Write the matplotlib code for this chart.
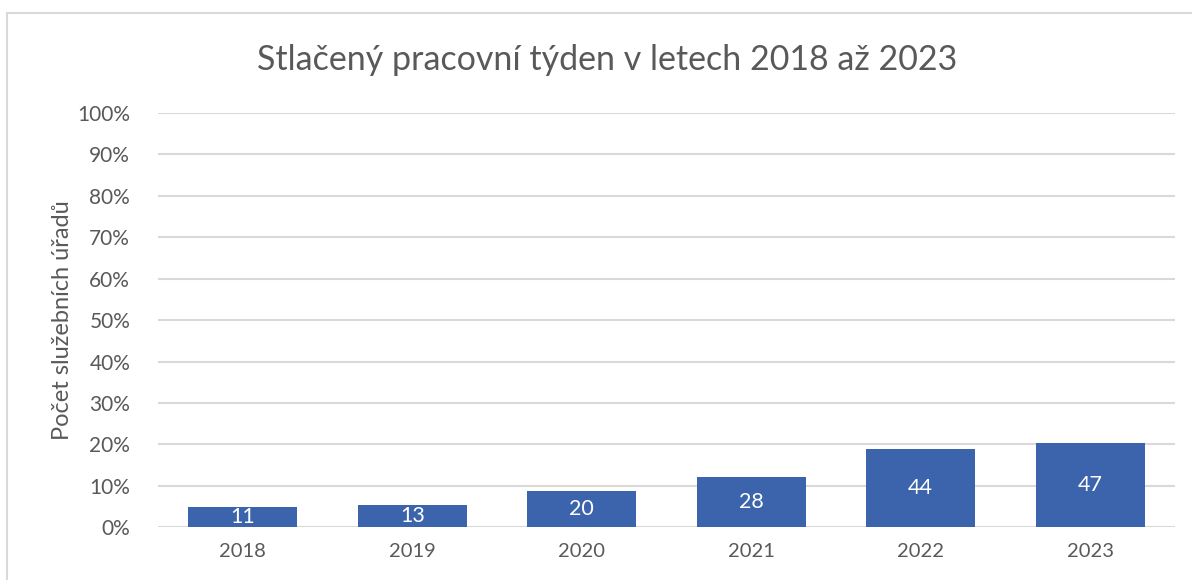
import matplotlib
matplotlib.use("Agg")
import matplotlib.pyplot as plt
from matplotlib.patches import Rectangle
from matplotlib.ticker import FuncFormatter, MultipleLocator

years = ["2018", "2019", "2020", "2021", "2022", "2023"]
shares = [4.8, 5.3, 8.7, 12.1, 18.9, 20.3]   # % of service offices
counts = [11, 13, 20, 28, 44, 47]             # data labels

title = "Stlačený pracovní týden v letech 2018 až 2023"
ylabel = "Počet služebních úřadů"

plt.rcParams['font.family'] = ['Lato', 'DejaVu Sans']

W, H = 1192, 580
fig = plt.figure(figsize=(W / 100, H / 100), dpi=100)
fig.patch.set_facecolor("white")

# outer chart-area border (cropped on right/bottom)
fig.patches.append(Rectangle((7 / W, -0.1), 1.2, 1 - 13 / H + 0.1, transform=fig.transFigure,
                             fill=False, edgecolor="#D9D9D9", linewidth=1.5))

left, right = 158 / W, 1175 / W
bottom, top = 1 - 527.3 / H, 1 - 113 / H
ax = fig.add_axes([left, bottom, right - left, top - bottom])

x = range(len(years))
bars = ax.bar(x, shares, width=0.646, color="#3C64AC", zorder=3)
for xi, v, c in zip(x, shares, counts):
    ax.text(xi, v / 2, str(c), ha="center", va="center", color="white", fontsize=15.5, zorder=4)

ax.set_xlim(-0.5, len(years) - 0.5)
ax.set_ylim(0, 100)
ax.yaxis.set_major_locator(MultipleLocator(10))
ax.yaxis.set_major_formatter(FuncFormatter(lambda v, p: f"{int(round(v))}%"))
ax.set_xticks(list(x))
ax.set_xticklabels(years)
ax.grid(axis="y", color="#D9D9D9", linewidth=1.5, zorder=0)
for s in ax.spines.values():
    s.set_visible(False)
ax.tick_params(axis="y", length=0, colors="#595959", labelsize=15, pad=20)
ax.tick_params(axis="x", length=0, colors="#595959", labelsize=14.5, pad=11)

ax.set_ylabel(ylabel, fontsize=17, color="#595959", labelpad=3)
fig.text(607 / W, 1 - 60 / H, title, ha="center", va="center", fontsize=24.5, color="#595959")

fig.savefig("out.png", dpi=100, facecolor="white")
